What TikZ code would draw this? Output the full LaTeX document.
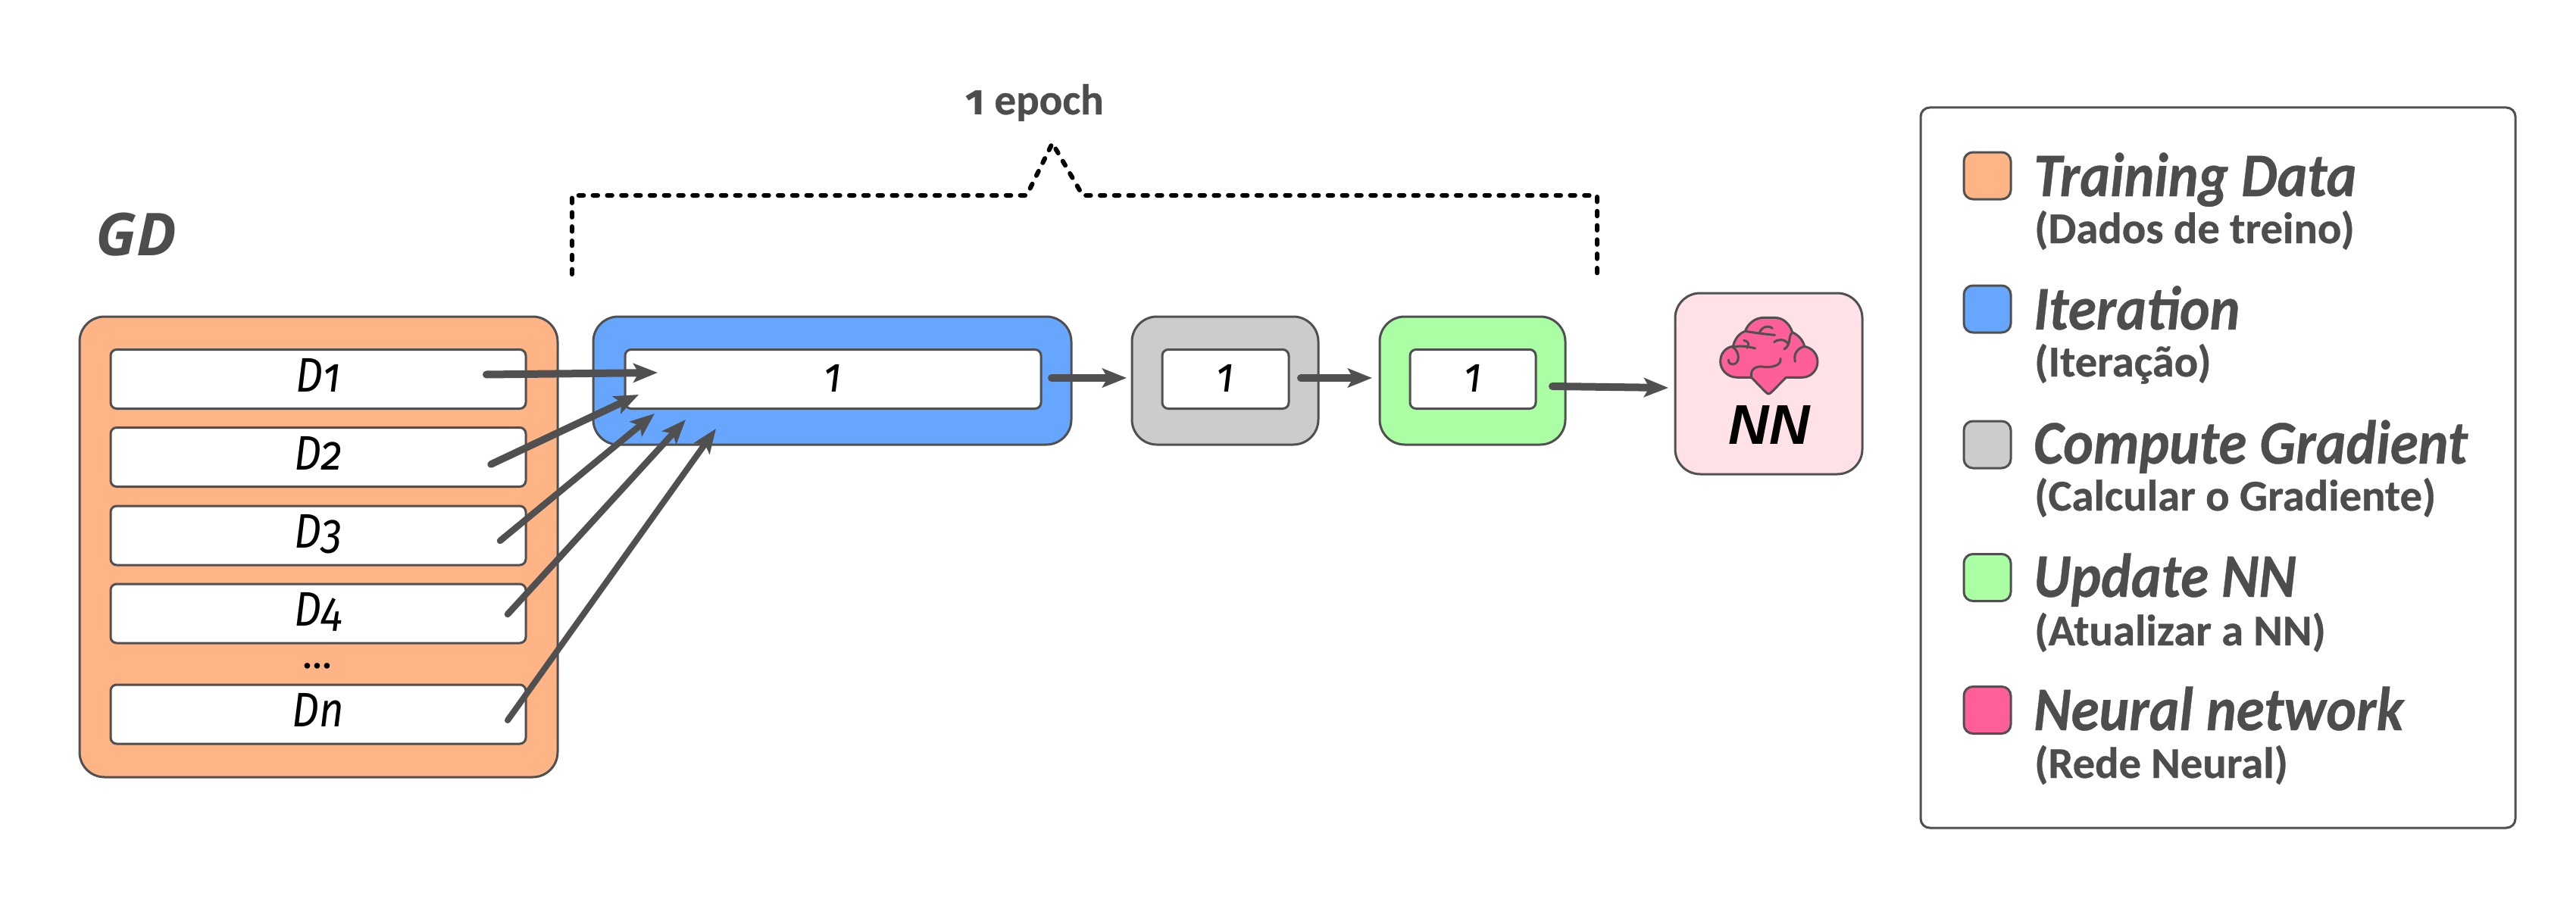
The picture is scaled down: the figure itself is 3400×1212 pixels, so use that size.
\documentclass[tikz,border=0pt]{standalone}
\usepackage{fontspec}
\usetikzlibrary{arrows.meta}
\setmainfont{Carlito}[BoldFeatures={FakeBold=0.5},BoldItalicFeatures={FakeBold=0.5}]
\newfontfamily\dfont{Fira Sans}[Numbers=OldStyle]
\newfontfamily\gdfont{Open Sans}
\definecolor{edge}{HTML}{505050}
\definecolor{txt}{HTML}{4D4D4D}
\definecolor{orangefill}{HTML}{FFB485}
\definecolor{bluefill}{HTML}{66A6FF}
\definecolor{grayfill}{HTML}{CCCCCC}
\definecolor{greenfill}{HTML}{AAFFA5}
\definecolor{pinkfill}{HTML}{FF5F98}
\definecolor{nnfill}{HTML}{FFE1E8}
\newcommand{\fsz}[1]{\fontsize{#1}{#1}\selectfont}
\newcommand{\dlab}[1]{\scalebox{.88}[1]{#1}}
\tikzset{
  x=1pt,y=-1pt,
  panel/.style={draw=edge,line width=3pt,rounded corners=33pt,inner sep=0pt},
  inner/.style={draw=edge,fill=white,line width=3pt,rounded corners=8pt,inner sep=0pt,text=black,text height=33pt,text depth=0pt,font=\dfont\fsz{64}\itshape},
  swatch/.style={draw=edge,line width=3pt,rounded corners=12pt,minimum width=62pt,minimum height=62pt,inner sep=0pt},
  arrowline/.style={draw=edge,line cap=round,-{Stealth[length=32pt,width=25pt,inset=7pt]}},
  head/.style={anchor=base west,inner sep=0pt,text=txt,font=\fsz{82}\bfseries\itshape,xscale=0.918},
  sub/.style={anchor=base west,inner sep=0pt,text=txt,font=\fsz{58}\bfseries,xscale=1.01},
}
\begin{document}
\begin{tikzpicture}
\useasboundingbox (0,0) rectangle (3400,1212);
\fill[white] (0,0) rectangle (3400,1212);

% data panel
\node[panel,fill=orangefill,minimum width=631pt,minimum height=608pt] (data) at (420.5,722) {};
\node[inner,minimum width=548pt,minimum height=78pt] (d1) at (420,500.5) {\dlab{D1}};
\node[inner,minimum width=548pt,minimum height=78pt] (d2) at (420,603.5) {\dlab{D2}};
\node[inner,minimum width=548pt,minimum height=78pt] (d3) at (420,707) {\dlab{D3}};
\node[inner,minimum width=548pt,minimum height=78pt] (d4) at (420,810) {\dlab{D4}};
\node[inner,minimum width=548pt,minimum height=78pt] (dn) at (420,943) {\dlab{Dn}};
\node[inner sep=0pt,anchor=base,font=\dfont\fsz{54},text=black] (dots) at (419,882) {...};
\node[anchor=base west,inner sep=0pt,text=txt,font=\gdfont\fsz{78}\bfseries\itshape] (gd) at (126,337) {GD};

% pipeline
\node[panel,fill=bluefill,minimum width=631pt,minimum height=169pt] (iter) at (1098.5,502.5) {};
\node[inner,minimum width=549pt,minimum height=78pt] (iter1) at (1099.5,500.5) {\dlab{1}};
\node[panel,fill=grayfill,minimum width=246pt,minimum height=169pt] (grad) at (1617,502.5) {};
\node[inner,minimum width=167pt,minimum height=78pt] (grad1) at (1617.5,500.5) {\dlab{1}};
\node[panel,fill=greenfill,minimum width=245pt,minimum height=169pt] (upd) at (1943.5,502.5) {};
\node[inner,minimum width=166pt,minimum height=78pt] (upd1) at (1944,500.5) {\dlab{1}};
\node[panel,fill=nnfill,minimum width=247pt,minimum height=239pt] (nn) at (2334.5,506.5) {};
\node[inner sep=0pt,anchor=base,font=\fontspec{Liberation Sans}\fsz{74}\bfseries\itshape,text=black] (nnlabel) at (2335,586.5) {NN};

% brain
\begin{scope}[shift={(2200,380)},x=0.3333pt,y=-0.3333pt,draw=edge,line width=3pt,line cap=round,line join=round]
\draw[fill=pinkfill] (403,420)
  .. controls (397,420) and (392,414) .. (335,355)
  -- (280,355)
  .. controls (240,355) and (212,325) .. (212,292)
  .. controls (212,258) and (235,235) .. (262,232)
  .. controls (268,205) and (285,180) .. (310,172)
  .. controls (322,140) and (350,118) .. (385,118)
  -- (425,118)
  .. controls (460,118) and (485,140) .. (497,176)
  .. controls (522,188) and (540,208) .. (545,232)
  .. controls (575,238) and (597,262) .. (597,292)
  .. controls (597,328) and (570,355) .. (535,355)
  -- (472,355)
  .. controls (414,414) and (409,420) .. (403,420) -- cycle;
\draw (310,172) .. controls (350,178) and (390,184) .. (428,187);
\draw (367,180) .. controls (372,158) and (398,145) .. (418,160);
\draw (262,235) .. controls (290,228) and (320,232) .. (350,240);
\draw (305,208) .. controls (320,210) and (330,222) .. (318,238);
\draw (262,235) .. controls (290,255) and (290,300) .. (262,303) .. controls (250,303) and (243,295) .. (245,285);
\draw (425,215) .. controls (440,202) and (470,202) .. (480,222);
\draw (497,178) .. controls (478,190) and (495,225) .. (465,243);
\draw (545,232) .. controls (520,238) and (500,260) .. (508,292);
\draw (335,352) .. controls (330,325) and (350,310) .. (375,312) .. controls (410,318) and (455,310) .. (450,280);
\end{scope}

% connectors
\coordinate (t1) at (642,494.5);  \coordinate (h1) at (868,492);
\coordinate (t2) at (648,613);    \coordinate (h2) at (843,521);
\coordinate (t3) at (660,714);    \coordinate (h3) at (864,546);
\coordinate (t4) at (670,811);    \coordinate (h4) at (905,554);
\coordinate (t5) at (670,951);    \coordinate (h5) at (945,566);
\draw[arrowline,line width=10pt] (t1) -- (h1);
\draw[arrowline,line width=9.5pt] (t2) -- (h2);
\draw[arrowline,line width=8.5pt] (t3) -- (h3);
\draw[arrowline,line width=8.5pt] (t4) -- (h4);
\draw[arrowline,line width=8pt] (t5) -- (h5);
\coordinate (a1) at (1388,499); \coordinate (a2) at (1487,499);
\coordinate (b1) at (1717,499); \coordinate (b2) at (1811,499);
\coordinate (c1) at (2049,510); \coordinate (c2) at (2202,512);
\draw[arrowline,line width=10pt] (a1) -- (a2);
\draw[arrowline,line width=10pt] (b1) -- (b2);
\draw[arrowline,line width=10pt] (c1) -- (c2);

% epoch bracket
\draw[black,line width=6pt,line cap=round,dash pattern=on 6.5pt off 12.3pt] (755,362) -- (755,258) -- (1355,258) -- (1389,189) -- (1429,258) -- (2108,258) -- (2108,362);
\node[anchor=base west,inner sep=0pt,text=txt,font=\fsz{57}\bfseries] (epoch) at (1274,151) {{\dfont\bfseries\fsz{56}1} epoch};

% legend
\node[draw=edge,line width=3pt,rounded corners=12pt,minimum width=785pt,minimum height=951pt,inner sep=0pt,fill=white] (legend) at (2927.5,617.5) {};
\node[swatch,fill=orangefill] (s1) at (2623,232) {};
\node[swatch,fill=bluefill]   (s2) at (2623,408) {};
\node[swatch,fill=grayfill]   (s3) at (2623,587) {};
\node[swatch,fill=greenfill]  (s4) at (2623,762.5) {};
\node[swatch,fill=pinkfill]   (s5) at (2623,937.5) {};
\node[head] (l1) at (2684,259) {Training Data};
\node[sub]  (m1) at (2685,321) {(Dados de treino)};
\node[head] (l2) at (2684,435) {Iteration};
\node[sub]  (m2) at (2685,497) {(Iteração)};
\node[head] (l3) at (2684,612) {Compute Gradient};
\node[sub]  (m3) at (2685,674) {(Calcular o Gradiente)};
\node[head] (l4) at (2684,788) {Update NN};
\node[sub]  (m4) at (2685,852) {(Atualizar a NN)};
\node[head] (l5) at (2684,964) {Neural network};
\node[sub]  (m5) at (2685,1027) {(Rede Neural)};
\end{tikzpicture}
\end{document}
